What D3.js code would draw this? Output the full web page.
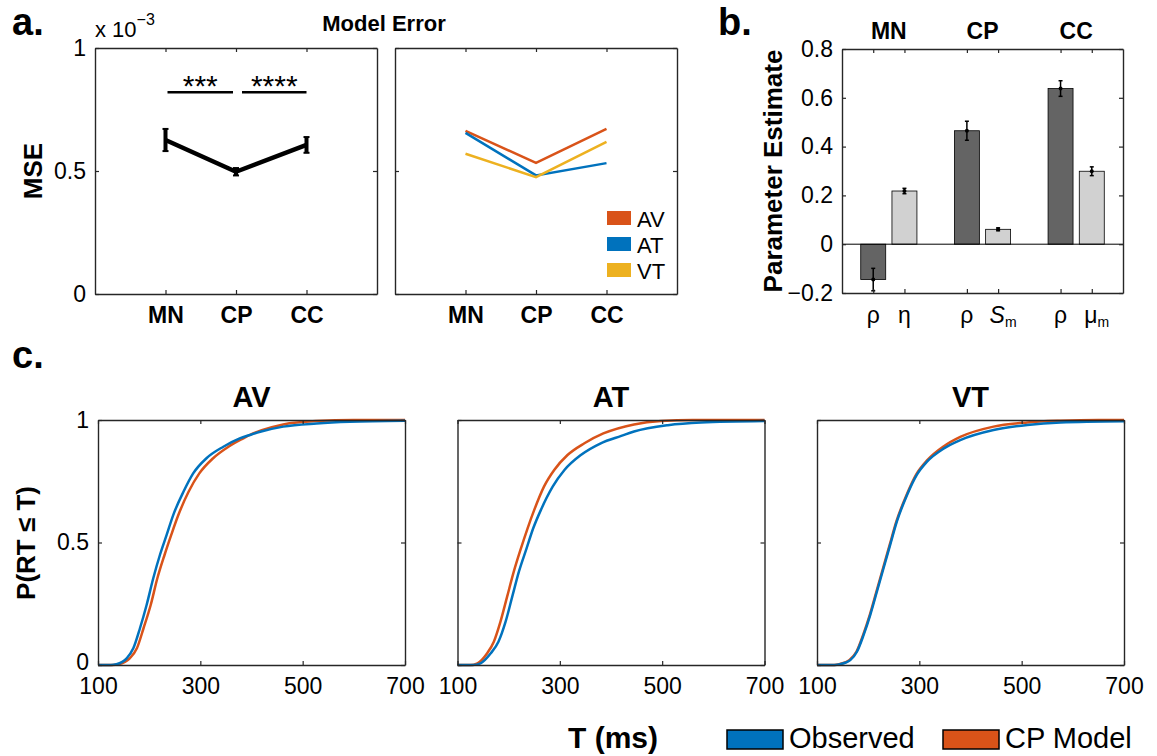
<!DOCTYPE html>
<html>
<head>
<meta charset="utf-8">
<script src="https://cdn.jsdelivr.net/npm/d3@7"></script>
<style>
  body { margin: 0; background: #fff; }
  svg text, svg tspan { font-family: "Liberation Sans", Arial, Helvetica, sans-serif; fill: #000; }
</style>
</head>
<body>
<div id="fig"></div>
<script>
// ---- panel a: model error (MSE, x 10^-3) ----
const modelCats = ["MN", "CP", "CC"];
const mseMean = [0.626, 0.497, 0.606];
const mseErr = [0.045, 0.015, 0.032];
const mseAV = [0.663, 0.533, 0.671];
const mseAT = [0.655, 0.482, 0.532];
const mseVT = [0.570, 0.475, 0.618];
const sigStars = ["***", "****"];
const sigLevel = 0.82;
const condNames = ["AV", "AT", "VT"];

// ---- panel b: parameter estimates ----
const paramGroups = ["MN", "CP", "CC"];
const paramSymbols = ["ρ", "η", "ρ", "S", "ρ", "μ"];
const paramSubs = ["", "", "", "m", "", "m"];
const paramValues = [-0.145, 0.218, 0.465, 0.061, 0.638, 0.299];
const paramErrors = [0.046, 0.011, 0.039, 0.006, 0.032, 0.018];

// ---- panel c: RT cumulative distributions [T (ms), P(RT <= T)] ----
const avObserved = [[100,0],[125,0],[136,0.003],[156,0.027],[169,0.068],[182,0.15],[195,0.245],[208,0.354],[221,0.449],[234,0.53],[247,0.612],[267,0.707],[286,0.782],[312,0.844],[345,0.891],[377,0.925],[397,0.939],[417,0.952],[462,0.973],[527,0.986],[592,0.993],[700,0.997]];
const avModel = [[100,0],[128,0],[140,0.003],[162,0.027],[176,0.068],[189,0.15],[203,0.245],[216,0.354],[230,0.449],[243,0.53],[257,0.612],[277,0.707],[298,0.782],[325,0.844],[355,0.891],[384,0.925],[400,0.942],[420,0.958],[462,0.982],[527,0.996],[600,1],[700,1]];
const atObserved = [[100,0],[130,0],[145,0.007],[165,0.048],[180,0.095],[194,0.177],[207,0.279],[220,0.381],[235,0.476],[248,0.558],[263,0.633],[286,0.728],[309,0.796],[341,0.857],[380,0.905],[420,0.935],[445,0.953],[511,0.979],[576,0.99],[700,0.996]];
const atModel = [[100,0],[125,0],[139,0.007],[158,0.048],[171,0.095],[184,0.177],[197,0.279],[210,0.381],[224,0.476],[237,0.558],[250,0.633],[269,0.728],[289,0.796],[315,0.857],[348,0.905],[385,0.945],[445,0.982],[498,0.996],[560,1],[700,1]];
const vtObserved = [[100,0],[135,0],[145,0.003],[165,0.02],[178,0.054],[191,0.122],[204,0.204],[217,0.299],[230,0.395],[243,0.49],[256,0.585],[276,0.694],[295,0.776],[315,0.83],[348,0.884],[380,0.918],[445,0.959],[511,0.98],[576,0.99],[700,0.995]];
const vtModel = [[100,0],[133,0],[143,0.003],[163,0.02],[177,0.054],[190,0.122],[203,0.204],[216,0.299],[229,0.395],[242,0.49],[255,0.585],[275,0.694],[294,0.778],[315,0.835],[348,0.893],[380,0.931],[445,0.973],[511,0.99],[576,0.997],[650,1],[700,1]];
const cdfTicksX = [100, 300, 500, 700];
const cdfTicksY = [0, 0.5, 1];
const legendNames = ["Observed", "CP Model"];

const COL = { AV: "#D95319", AT: "#0072BD", VT: "#EDB120", obs: "#0072BD", model: "#D95319" };
const AXIS_COL = "#262626";
const TICK_FS = 23;

const svg = d3.select("#fig").append("svg")
  .attr("width", 1157)
  .attr("height", 756);

// box with inward ticks on all four sides (matlab style)
function boxAxes(g, x, y, opts) {
  const w = x.range()[1], h = y.range()[0];
  const style = (sel) => {
    sel.select(".domain").attr("stroke", AXIS_COL).attr("stroke-width", 1.4);
    sel.selectAll(".tick line").attr("stroke", AXIS_COL).attr("stroke-width", 1.2);
    sel.selectAll("text").attr("font-size", TICK_FS).attr("font-weight", opts.xBold ? "bold" : null);
  };
  g.append("g").attr("transform", `translate(0,${h})`)
    .call(d3.axisBottom(x).tickValues(opts.xTicks).tickSizeInner(-4).tickSizeOuter(0)
      .tickPadding(13).tickFormat(opts.xFmt || (() => "")))
    .call(style);
  g.append("g")
    .call(d3.axisTop(x).tickValues(opts.xTicks).tickSizeInner(-4).tickSizeOuter(0).tickFormat(() => ""))
    .call(style);
  const left = g.append("g")
    .call(d3.axisLeft(y).tickValues(opts.yTicks).tickSizeInner(-4).tickSizeOuter(0)
      .tickPadding(9).tickFormat(opts.yFmt || (() => "")));
  left.call(style);
  left.selectAll("text").attr("font-weight", null);
  g.append("g").attr("transform", `translate(${w},0)`)
    .call(d3.axisRight(y).tickValues(opts.yTicks).tickSizeInner(-4).tickSizeOuter(0).tickFormat(() => ""))
    .call(style);
  return left;
}

function label(x, y, txt, size, weight, anchor, rotate) {
  const t = svg.append("text")
    .attr("transform", `translate(${x},${y})` + (rotate ? ` rotate(${rotate})` : ""))
    .attr("font-size", size)
    .attr("font-weight", weight || "normal")
    .attr("text-anchor", anchor || "start")
    .text(txt);
  return t;
}

// ================= panel a =================
label(12, 35, "a.", 38, "bold");
label(384, 31, "Model Error", 22, "bold", "middle");
const expo = label(95, 37, "x 10", 22);
expo.append("tspan").attr("font-size", 16).attr("dy", -12).text("−3");
label(42, 171, "MSE", 26, "bold", "middle", -90);

const aW = 282, aH = 246;
const xA = d3.scaleLinear().domain([0, 4]).range([0, aW]);
const yA = d3.scaleLinear().domain([0, 1]).range([aH, 0]);
const catX = (i) => xA(i + 1);

const gA = svg.append("g").attr("transform", "translate(95,48)");
boxAxes(gA, xA, yA, {
  xTicks: [1, 2, 3], xFmt: (d) => modelCats[d - 1], xBold: true,
  yTicks: [0, 0.5, 1], yFmt: d3.format("")
});

gA.append("path")
  .datum(mseMean)
  .attr("fill", "none")
  .attr("stroke", "#000")
  .attr("stroke-width", 4.5)
  .attr("stroke-linejoin", "round")
  .attr("d", d3.line().x((d, i) => catX(i)).y((d) => yA(d)));

const errA = gA.selectAll(".errA").data(mseMean).enter().append("g").attr("class", "errA");
errA.append("line")
  .attr("x1", (d, i) => catX(i)).attr("x2", (d, i) => catX(i))
  .attr("y1", (d, i) => yA(d - mseErr[i])).attr("y2", (d, i) => yA(d + mseErr[i]))
  .attr("stroke", "#000").attr("stroke-width", 4);
[-1, 1].forEach((s) => {
  errA.append("line")
    .attr("x1", (d, i) => catX(i) - 3).attr("x2", (d, i) => catX(i) + 3)
    .attr("y1", (d, i) => yA(d + s * mseErr[i])).attr("y2", (d, i) => yA(d + s * mseErr[i]))
    .attr("stroke", "#000").attr("stroke-width", 2);
});

// significance brackets
sigStars.forEach((s, i) => {
  const x1 = catX(i) + (i === 0 ? 2 : 6), x2 = catX(i + 1) - (i === 0 ? 3 : 0);
  gA.append("line")
    .attr("x1", x1).attr("x2", x2)
    .attr("y1", yA(sigLevel)).attr("y2", yA(sigLevel))
    .attr("stroke", "#000").attr("stroke-width", 2.5);
  gA.append("text")
    .attr("x", (x1 + x2) / 2).attr("y", yA(sigLevel) + 4)
    .attr("text-anchor", "middle").attr("font-size", 30)
    .text(s);
});

// right half: per-condition lines
const gA2 = svg.append("g").attr("transform", "translate(395,48)");
boxAxes(gA2, xA, yA, {
  xTicks: [1, 2, 3], xFmt: (d) => modelCats[d - 1], xBold: true,
  yTicks: [0, 0.5, 1]
});
const condSeries = [mseAV, mseAT, mseVT];
condSeries.forEach((vals, k) => {
  gA2.append("path")
    .datum(vals)
    .attr("fill", "none")
    .attr("stroke", COL[condNames[k]])
    .attr("stroke-width", 2.5)
    .attr("d", d3.line().x((d, i) => catX(i)).y((d) => yA(d)));
});
const legA = gA2.selectAll(".legA").data(condNames).enter().append("g")
  .attr("class", "legA")
  .attr("transform", (d, i) => `translate(212,${163 + i * 26})`);
legA.append("rect").attr("width", 24).attr("height", 14).attr("fill", (d) => COL[d]);
legA.append("text").attr("x", 30).attr("y", 16).attr("font-size", 22).text((d) => d);

// ================= panel b =================
label(718, 35, "b.", 38, "bold");
label(782, 171, "Parameter Estimate", 26, "bold", "middle", -90);

const bW = 281, bH = 244;
const xB = d3.scaleLinear().domain([0, 9]).range([0, bW]);
const yB = d3.scaleLinear().domain([-0.2, 0.8]).range([bH, 0]);
const paramPos = (i) => Math.floor(i / 2) * 3 + (i % 2) + 1;
const barW = xB(0.8) - xB(0);

const gB = svg.append("g").attr("transform", "translate(842,49)");

gB.selectAll(".bar").data(paramValues).enter().append("rect")
  .attr("class", "bar")
  .attr("x", (d, i) => xB(paramPos(i)) - barW / 2)
  .attr("width", barW)
  .attr("y", (d) => yB(Math.max(0, d)))
  .attr("height", (d) => Math.abs(yB(d) - yB(0)))
  .attr("fill", (d, i) => (i % 2 === 0 ? "#646464" : "#d1d1d1"))
  .attr("stroke", "#000")
  .attr("stroke-width", 0.8);

gB.append("line")
  .attr("x1", 0).attr("x2", bW)
  .attr("y1", yB(0)).attr("y2", yB(0))
  .attr("stroke", "#000").attr("stroke-width", 1);

const errB = gB.selectAll(".errB").data(paramValues).enter().append("g").attr("class", "errB");
errB.append("line")
  .attr("x1", (d, i) => xB(paramPos(i))).attr("x2", (d, i) => xB(paramPos(i)))
  .attr("y1", (d, i) => yB(d - paramErrors[i])).attr("y2", (d, i) => yB(d + paramErrors[i]))
  .attr("stroke", "#000").attr("stroke-width", 1.5);
[-1, 1].forEach((s) => {
  errB.append("line")
    .attr("x1", (d, i) => xB(paramPos(i)) - 2).attr("x2", (d, i) => xB(paramPos(i)) + 2)
    .attr("y1", (d, i) => yB(d + s * paramErrors[i])).attr("y2", (d, i) => yB(d + s * paramErrors[i]))
    .attr("stroke", "#000").attr("stroke-width", 1.5);
});
errB.append("circle")
  .attr("cx", (d, i) => xB(paramPos(i))).attr("cy", (d) => yB(d))
  .attr("r", 2).attr("fill", "#000");

boxAxes(gB, xB, yB, {
  xTicks: paramValues.map((d, i) => paramPos(i)),
  yTicks: [-0.2, 0, 0.2, 0.4, 0.6, 0.8],
  yFmt: (d) => (d === 0 ? "0" : d3.format(".1f")(d))
});

gB.selectAll(".grp").data(paramGroups).enter().append("text")
  .attr("class", "grp")
  .attr("x", (d, i) => xB(i * 3 + 1.5)).attr("y", -10)
  .attr("text-anchor", "middle").attr("font-size", 23).attr("font-weight", "bold")
  .text((d) => d);

const pLab = gB.selectAll(".plab").data(paramSymbols).enter().append("text")
  .attr("class", "plab")
  .attr("x", (d, i) => xB(paramPos(i)) + (paramSubs[i] ? 5 : 0))
  .attr("y", bH + 30)
  .attr("text-anchor", "middle")
  .attr("font-size", TICK_FS);
pLab.append("tspan")
  .attr("font-style", (d) => (d === "S" ? "italic" : null))
  .text((d) => d);
pLab.append("tspan")
  .attr("font-size", 14).attr("dy", 4).attr("fill", "#000")
  .text((d, i) => paramSubs[i]);

// ================= panel c =================
label(12, 368, "c.", 38, "bold");
label(35, 543, "P(RT ≤ T)", 26, "bold", "middle", -90);

const cW = 307, cH = 245;
const xC = d3.scaleLinear().domain([100, 700]).range([0, cW]);
const yC = d3.scaleLinear().domain([0, 1]).range([cH, 0]);
const cdfLine = d3.line().x((d) => xC(d[0])).y((d) => yC(d[1])).curve(d3.curveMonotoneX);
const cdfSets = [[avObserved, avModel], [atObserved, atModel], [vtObserved, vtModel]];

condNames.forEach((name, k) => {
  const g = svg.append("g").attr("transform", `translate(${98 + k * 359.5},420)`);
  g.append("text")
    .attr("x", cW / 2).attr("y", -13)
    .attr("text-anchor", "middle").attr("font-size", 29).attr("font-weight", "bold")
    .text(name);
  g.append("path").datum(cdfSets[k][1])
    .attr("fill", "none").attr("stroke", COL.model).attr("stroke-width", 2.5)
    .attr("d", cdfLine);
  g.append("path").datum(cdfSets[k][0])
    .attr("fill", "none").attr("stroke", COL.obs).attr("stroke-width", 2.5)
    .attr("d", cdfLine);
  const left = boxAxes(g, xC, yC, {
    xTicks: cdfTicksX, xFmt: d3.format(""),
    yTicks: cdfTicksY, yFmt: k === 0 ? d3.format("") : null
  });
  // lift the bottom "0" a touch so it clears the "100" below it
  left.selectAll(".tick text").filter((d) => d === 0).attr("dy", "0.2em");
});

label(613, 748, "T (ms)", 30, "bold", "middle");

const legC = svg.selectAll(".legC").data(legendNames).enter().append("g")
  .attr("class", "legC")
  .attr("transform", (d, i) => `translate(${727 + i * 216},730)`);
legC.append("rect")
  .attr("width", 56).attr("height", 19)
  .attr("fill", (d, i) => (i === 0 ? COL.obs : COL.model))
  .attr("stroke", "#000").attr("stroke-width", 1.5);
legC.append("text")
  .attr("x", 62).attr("y", 18)
  .attr("font-size", 29)
  .text((d) => d);
</script>
</body>
</html>
